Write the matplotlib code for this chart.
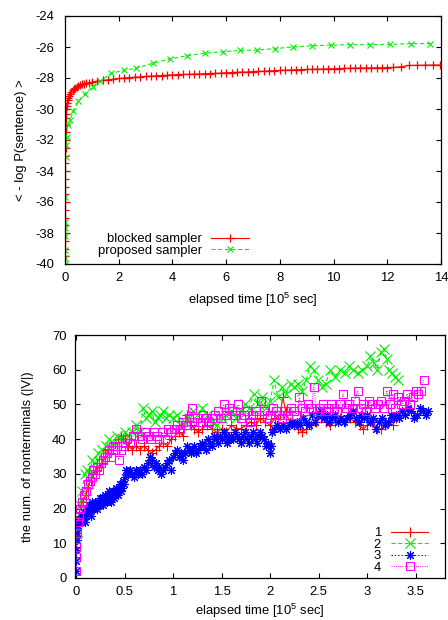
import matplotlib
matplotlib.use("Agg")
import matplotlib.pyplot as plt

# =========================================
# DATA (time in 10^5 sec)
# =========================================
# top: average log-likelihood per sentence
blocked_t = [0.0, 0.0, 0.0, 0.0, 0.0, 0.0, 0.0, 0.005, 0.005, 0.005,
             0.01, 0.01, 0.01, 0.015, 0.015, 0.02, 0.02, 0.025, 0.03, 0.035,
             0.04, 0.05, 0.06, 0.08, 0.1, 0.13, 0.16, 0.2, 0.24, 0.28,
             0.33, 0.38, 0.44, 0.5, 0.57, 0.64, 0.72, 0.8, 0.9, 1.0,
             1.2, 1.4, 1.6, 1.8, 2.0, 2.2, 2.4, 2.6, 2.8, 3.0,
             3.2, 3.4, 3.6, 3.8, 4.0, 4.2, 4.4, 4.6, 4.8, 5.0,
             5.2, 5.4, 5.6, 5.8, 6.0, 6.2, 6.4, 6.6, 6.8, 7.0,
             7.2, 7.4, 7.6, 7.8, 8.0, 8.2, 8.4, 8.6, 8.8, 9.0,
             9.2, 9.4, 9.6, 9.8, 10.0, 10.2, 10.4, 10.6, 10.8, 11.0,
             11.2, 11.4, 11.6, 11.8, 12.0, 12.2, 12.5, 12.8, 13.1, 13.4,
             13.7, 13.95]
blocked_y = [-40.0, -39.5, -39.0, -38.5, -38.0, -37.5, -37.0, -36.5, -36.0, -35.5,
             -35.0, -34.5, -34.0, -33.5, -33.0, -32.5, -32.0, -31.5, -31.0, -30.6,
             -30.3, -30.0, -29.8, -29.6, -29.45, -29.3, -29.15, -29.0, -28.9, -28.8,
             -28.7, -28.62, -28.55, -28.5, -28.45, -28.4, -28.36, -28.33, -28.3, -28.27,
             -28.2, -28.15, -28.12, -28.08, -28.03, -28.0, -27.97, -27.95, -27.93, -27.9,
             -27.88, -27.86, -27.84, -27.82, -27.8, -27.78, -27.77, -27.76, -27.75, -27.74,
             -27.72, -27.71, -27.7, -27.68, -27.66, -27.65, -27.63, -27.62, -27.61, -27.59,
             -27.57, -27.56, -27.54, -27.53, -27.51, -27.5, -27.48, -27.47, -27.46, -27.45,
             -27.44, -27.43, -27.42, -27.41, -27.4, -27.39, -27.38, -27.37, -27.36, -27.36,
             -27.35, -27.35, -27.34, -27.34, -27.33, -27.32, -27.28, -27.19, -27.18, -27.17,
             -27.16, -27.16]

proposed_t = [0.0, 0.0, 0.0, 0.0, 0.0, 0.0, 0.01, 0.02, 0.03, 0.06,
              0.1, 0.19, 0.31, 0.5, 0.75, 1.03, 1.31, 1.72, 2.2, 2.65,
              3.27, 3.9, 4.56, 5.2, 5.9, 6.5, 7.14, 7.83, 8.5, 9.2,
              9.9, 10.6, 11.36, 12.1, 12.9, 13.6]
proposed_y = [-40.0, -39.6, -39.1, -38.2, -37.7, -37.3, -35.7, -33.1, -32.3, -31.8,
              -31.0, -30.7, -30.1, -29.5, -29.0, -28.55, -28.2, -27.7, -27.5, -27.37,
              -27.05, -26.77, -26.56, -26.4, -26.3, -26.22, -26.2, -26.1, -26.0, -25.92,
              -25.88, -25.85, -25.85, -25.83, -25.78, -25.78]

# bottom: number of nonterminals, runs 1-4
s1_t = [0.0, 0.005, 0.01, 0.02, 0.03, 0.05, 0.07, 0.1, 0.12, 0.15,
        0.18, 0.21, 0.24, 0.27, 0.3, 0.33, 0.36, 0.4, 0.43, 0.46,
        0.5, 0.54, 0.58, 0.62, 0.66, 0.7, 0.74, 0.78, 0.82, 0.86,
        0.9, 0.94, 0.98, 1.02, 1.06, 1.1, 1.14, 1.18, 1.22, 1.26,
        1.3, 1.35, 1.4, 1.45, 1.5, 1.55, 1.6, 1.65, 1.7, 1.75,
        1.8, 1.85, 1.9, 1.95, 2.0, 2.05, 2.1, 2.13, 2.16, 2.2,
        2.25, 2.29, 2.33, 2.37, 2.42, 2.47, 2.52, 2.57, 2.62, 2.67,
        2.72, 2.77, 2.82, 2.87, 2.92, 2.96, 3.0, 3.05, 3.1, 3.14,
        3.18, 3.22, 3.26, 3.3, 3.33]
s1_y = [6, 9, 12, 15, 18, 21, 22, 24, 26, 28,
        30, 31, 32, 33, 35, 37, 38, 39, 40, 41,
        40, 38, 37, 38, 37, 38, 37, 36, 37, 38,
        39, 38, 40, 41, 42, 41, 47, 44, 43, 42,
        43, 44, 43, 42, 43, 42, 44, 43, 43, 44,
        45, 44, 46, 45, 44, 46, 47, 52, 48, 45,
        44, 43, 42, 43, 44, 45, 46, 45, 44, 45,
        46, 45, 46, 45, 44, 43, 44, 45, 43, 43,
        44, 45, 44, 46, 47]

s2_t = [0.0, 0.01, 0.02, 0.04, 0.06, 0.09, 0.11, 0.14, 0.17, 0.2,
        0.23, 0.27, 0.31, 0.34, 0.38, 0.42, 0.46, 0.5, 0.54, 0.58,
        0.62, 0.66, 0.69, 0.72, 0.75, 0.78, 0.81, 0.84, 0.87, 0.9,
        0.93, 0.96, 1.0, 1.04, 1.08, 1.12, 1.16, 1.2, 1.25, 1.3,
        1.35, 1.4, 1.45, 1.5, 1.55, 1.6, 1.65, 1.7, 1.74, 1.78,
        1.83, 1.87, 1.92, 1.96, 2.0, 2.04, 2.08, 2.12, 2.16, 2.21,
        2.25, 2.29, 2.33, 2.37, 2.41, 2.45, 2.49, 2.53, 2.57, 2.62,
        2.67, 2.72, 2.77, 2.81, 2.85, 2.9, 2.95, 3.0, 3.03, 3.07,
        3.1, 3.14, 3.17, 3.2, 3.22, 3.25, 3.29, 3.32]
s2_y = [8, 13, 17, 21, 25, 30, 31, 30, 34, 33,
        36, 37, 38, 40, 39, 41, 40, 42, 41, 42,
        44, 42, 49, 46, 47, 48, 45, 46, 47, 48,
        46, 47, 46, 47, 44, 45, 46, 48, 47, 49,
        47, 45, 44, 46, 47, 48, 46, 48, 50, 49,
        53, 50, 52, 49, 51, 57, 52, 55, 53, 56,
        55, 56, 54, 57, 61, 60, 57, 55, 56, 60,
        58, 60, 59, 61, 60, 59, 60, 61, 64, 62,
        60, 65, 66, 63, 60, 59, 58, 57]

s3_t = [0.0, 0.0, 0.005, 0.01, 0.015, 0.02, 0.03, 0.04, 0.05, 0.06,
        0.07, 0.08, 0.09, 0.1, 0.11, 0.12, 0.13, 0.14, 0.15, 0.16,
        0.17, 0.18, 0.19, 0.2, 0.21, 0.22, 0.23, 0.24, 0.25, 0.26,
        0.27, 0.28, 0.29, 0.3, 0.31, 0.32, 0.33, 0.34, 0.35, 0.36,
        0.37, 0.38, 0.39, 0.4, 0.41, 0.42, 0.43, 0.44, 0.45, 0.46,
        0.47, 0.48, 0.49, 0.5, 0.52, 0.54, 0.56, 0.58, 0.6, 0.62,
        0.64, 0.66, 0.68, 0.7, 0.72, 0.74, 0.76, 0.78, 0.8, 0.82,
        0.84, 0.86, 0.88, 0.9, 0.92, 0.94, 0.96, 0.98, 1.0, 1.02,
        1.04, 1.06, 1.08, 1.1, 1.12, 1.14, 1.16, 1.18, 1.2, 1.22,
        1.24, 1.26, 1.28, 1.3, 1.32, 1.34, 1.36, 1.38, 1.4, 1.42,
        1.44, 1.46, 1.48, 1.5, 1.52, 1.54, 1.56, 1.58, 1.6, 1.62,
        1.64, 1.66, 1.68, 1.7, 1.72, 1.74, 1.76, 1.78, 1.8, 1.82,
        1.84, 1.86, 1.88, 1.9, 1.92, 1.94, 1.96, 1.98, 2.0, 2.01,
        2.02, 2.04, 2.07, 2.1, 2.13, 2.16, 2.19, 2.22, 2.25, 2.28,
        2.31, 2.34, 2.37, 2.4, 2.43, 2.46, 2.49, 2.52, 2.55, 2.58,
        2.61, 2.64, 2.67, 2.7, 2.73, 2.76, 2.79, 2.82, 2.85, 2.88,
        2.91, 2.94, 2.97, 3.0, 3.03, 3.06, 3.09, 3.12, 3.15, 3.18,
        3.21, 3.24, 3.27, 3.3, 3.33, 3.36, 3.39, 3.42, 3.45, 3.48,
        3.51, 3.54, 3.57, 3.6, 3.62]
s3_y = [2, 5, 8, 11, 13, 15, 16, 17, 16, 18,
        17, 19, 16, 18, 20, 19, 21, 20, 18, 20,
        22, 21, 20, 22, 21, 20, 22, 21, 23, 22,
        23, 21, 22, 24, 23, 22, 24, 25, 23, 22,
        24, 25, 23, 24, 26, 25, 24, 26, 27, 25,
        26, 28, 27, 29, 31, 30, 31, 30, 29, 31,
        30, 31, 30, 32, 31, 33, 35, 34, 32, 33,
        31, 32, 30, 31, 32, 33, 34, 31, 35, 36,
        37, 35, 36, 34, 36, 38, 37, 36, 37, 38,
        36, 37, 38, 39, 38, 37, 40, 39, 38, 41,
        40, 39, 41, 40, 42, 41, 39, 40, 41, 40,
        42, 41, 40, 39, 41, 42, 40, 39, 41, 42,
        40, 39, 41, 42, 41, 40, 38, 39, 36, 38,
        42, 43, 44, 43, 44, 43, 44, 45, 44, 45,
        44, 46, 45, 44, 47, 45, 47, 48, 46, 47,
        45, 46, 47, 45, 46, 45, 46, 47, 48, 46,
        45, 47, 46, 47, 45, 46, 43, 45, 46, 44,
        45, 47, 46, 47, 46, 48, 47, 49, 48, 46,
        47, 49, 48, 47, 48]

s4_t = [0.0, 0.0, 0.005, 0.01, 0.02, 0.03, 0.045, 0.06, 0.08, 0.1,
        0.12, 0.14, 0.16, 0.18, 0.2, 0.22, 0.24, 0.26, 0.28, 0.3,
        0.32, 0.34, 0.36, 0.38, 0.4, 0.42, 0.44, 0.46, 0.48, 0.5,
        0.53, 0.56, 0.59, 0.62, 0.65, 0.68, 0.71, 0.74, 0.77, 0.8,
        0.83, 0.86, 0.89, 0.92, 0.95, 0.98, 1.01, 1.04, 1.07, 1.1,
        1.13, 1.16, 1.19, 1.22, 1.25, 1.28, 1.31, 1.34, 1.37, 1.4,
        1.43, 1.46, 1.49, 1.52, 1.55, 1.58, 1.61, 1.64, 1.67, 1.7,
        1.73, 1.76, 1.79, 1.82, 1.85, 1.88, 1.91, 1.94, 1.97, 2.0,
        2.03, 2.06, 2.09, 2.12, 2.15, 2.18, 2.21, 2.24, 2.27, 2.3,
        2.33, 2.36, 2.39, 2.42, 2.45, 2.48, 2.51, 2.54, 2.57, 2.6,
        2.63, 2.66, 2.69, 2.72, 2.75, 2.78, 2.81, 2.84, 2.87, 2.9,
        2.93, 2.96, 2.99, 3.02, 3.05, 3.08, 3.11, 3.14, 3.17, 3.2,
        3.23, 3.26, 3.29, 3.32, 3.35, 3.38, 3.41, 3.44, 3.47, 3.5,
        3.52, 3.55, 3.58]
s4_y = [2, 6, 9, 13, 16, 18, 20, 22, 24, 25,
        27, 28, 29, 31, 30, 32, 31, 33, 34, 35,
        36, 37, 35, 38, 37, 38, 34, 37, 38, 39,
        40, 39, 41, 43, 41, 40, 42, 41, 40, 42,
        41, 40, 42, 40, 43, 42, 43, 44, 43, 45,
        44, 46, 49, 45, 46, 45, 47, 46, 45, 46,
        47, 48, 46, 50, 47, 49, 48, 47, 50, 46,
        47, 48, 45, 47, 48, 47, 51, 48, 46, 47,
        49, 48, 47, 46, 48, 47, 49, 48, 47, 52,
        49, 48, 50, 49, 55, 48, 49, 50, 48, 49,
        50, 49, 48, 50, 53, 49, 50, 49, 51, 54,
        49, 50, 48, 51, 50, 49, 50, 51, 49, 54,
        50, 53, 49, 52, 50, 51, 53, 50, 52, 54,
        53, 54, 57]

# =========================================
# STYLE
# =========================================
plt.rcParams["font.family"] = ["Liberation Sans", "DejaVu Sans"]
plt.rcParams["font.size"] = 9.4
plt.rcParams["axes.unicode_minus"] = False
plt.rcParams["mathtext.fontset"] = "custom"
plt.rcParams["mathtext.rm"] = "Liberation Sans"
plt.rcParams["mathtext.default"] = "regular"

RED = "#ff0000"
GREEN = "#00f000"
BLUE = "#0000ff"
MAGENTA = "#ff00ff"
LW = 0.8

fig = plt.figure(figsize=(4.48, 6.2), dpi=100)
ax1 = fig.add_axes([65 / 448, (620 - 264) / 620, 376 / 448, 248 / 620])
ax2 = fig.add_axes([75 / 448, (620 - 578) / 620, 370 / 448, 243 / 620])


def style_axes(ax, ypad, xpad):
    ax.tick_params(direction="in", top=True, right=True, length=3.5, width=0.8)
    ax.tick_params(axis="y", pad=ypad)
    ax.tick_params(axis="x", pad=xpad)
    for sp in ax.spines.values():
        sp.set_linewidth(0.9)


# =========================================
# TOP PLOT
# =========================================
ax1.plot(blocked_t, blocked_y, color=RED, lw=LW, marker="+", ms=6, mew=0.9,
         label="blocked sampler")
ax1.plot(proposed_t, proposed_y, color=GREEN, lw=LW, ls=(0, (3.6, 2.4)),
         marker="x", ms=5, mew=0.8, label="proposed sampler")
ax1.set_xlim(0, 14)
ax1.set_ylim(-40, -24)
ax1.set_xticks(range(0, 15, 2))
ax1.set_yticks(range(-40, -23, 2))
style_axes(ax1, 7.5, 6)
ax1.set_xlabel("elapsed time [10$^5$ sec]")
ax1.set_ylabel("< - log P(sentence) >")
ax1.yaxis.set_label_coords(-0.1, 0.5)
ax1.xaxis.set_label_coords(0.5, -0.11)

leg1 = ax1.legend(loc="lower right", bbox_to_anchor=(0.489, 0.03), frameon=False,
                  markerfirst=False, numpoints=1, handlelength=2.9,
                  handletextpad=0.7, labelspacing=-0.05, borderpad=0,
                  borderaxespad=0)
leg1._legend_box.align = "right"

# =========================================
# BOTTOM PLOT
# =========================================
ax2.plot(s1_t, s1_y, color=RED, lw=LW, marker="+", ms=7, mew=0.8, label="1")
ax2.plot(s2_t, s2_y, color=GREEN, lw=LW, ls=(0, (3.6, 2.4)), marker="x",
         ms=6.5, mew=0.8, label="2")
ax2.plot(s3_t, s3_y, color=BLUE, lw=LW, ls=(0, (1.2, 1.8)), marker=(8, 2, 0),
         ms=6.5, mew=0.8, label="3")
ax2.plot(s4_t, s4_y, color=MAGENTA, lw=LW, ls=(0, (0.8, 1.2)), marker="s",
         ms=6, mew=0.8, mfc="none", label="4")
ax2.set_xlim(-0.01, 3.8)
ax2.set_ylim(0, 70)
ax2.set_xticks([0, 0.5, 1, 1.5, 2, 2.5, 3, 3.5])
ax2.set_xticklabels(["0", "0.5", "1", "1.5", "2", "2.5", "3", "3.5"])
ax2.set_yticks(range(0, 71, 10))
style_axes(ax2, 6, 6)
ax2.set_xlabel("elapsed time [10$^5$ sec]")
ax2.set_ylabel("the num. of nonterminals (|V|)")
ax2.yaxis.set_label_coords(-0.112, 0.5)
ax2.xaxis.set_label_coords(0.5, -0.1)

leg2 = ax2.legend(loc="lower right", bbox_to_anchor=(0.954, 0.018), frameon=False,
                  markerfirst=False, numpoints=1, handlelength=2.8,
                  handletextpad=0.8, labelspacing=-0.05, borderpad=0,
                  borderaxespad=0)
leg2._legend_box.align = "right"

fig.savefig("out.png", dpi=100)
